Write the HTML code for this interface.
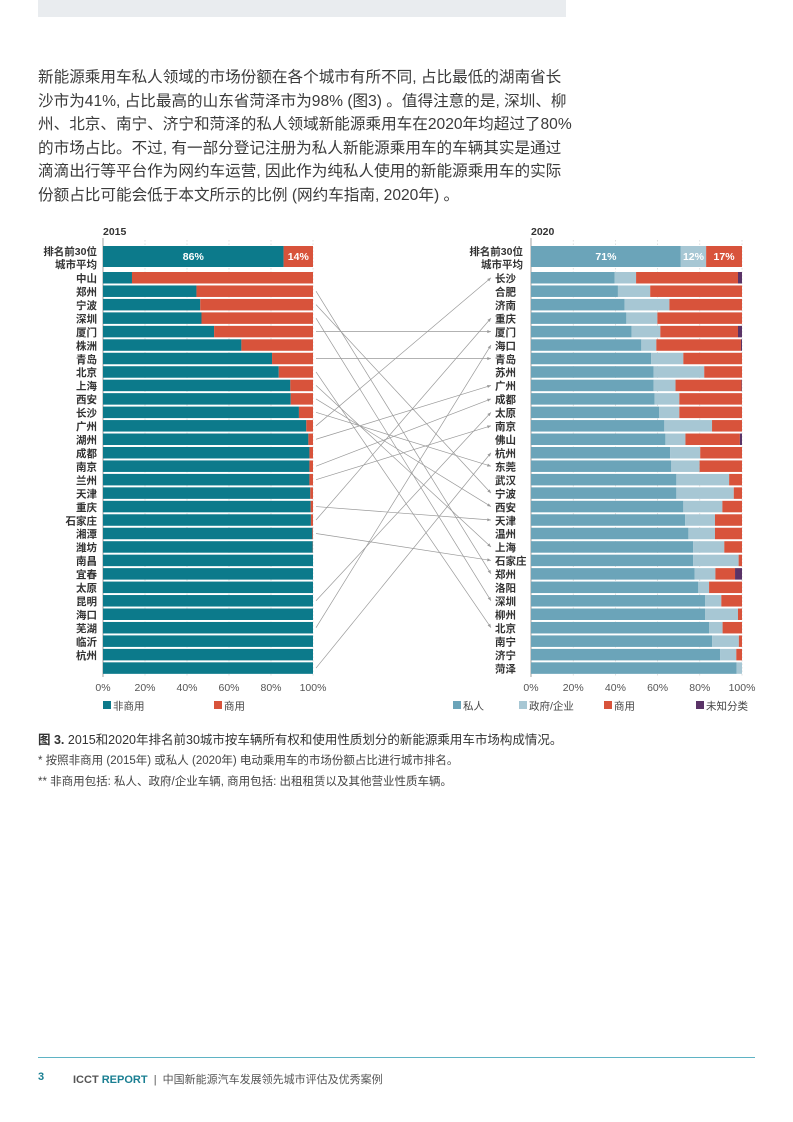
<!DOCTYPE html>
<html><head><meta charset="utf-8">
<style>
body{margin:0;width:793px;height:1122px;background:#fff;position:relative;overflow:hidden;font-family:"Liberation Sans","Noto Sans CJK SC",sans-serif;color:#333}
.topbar{position:absolute;left:38px;top:0;width:528px;height:17px;background:#e9ecef}
.para{position:absolute;left:38px;top:66px;font-size:15.6px;line-height:23.6px;color:#3a3a3a;white-space:nowrap}
.cap{position:absolute;left:38px;font-size:11.5px;color:#444;white-space:nowrap}
svg text{font-family:"Liberation Sans","Noto Sans CJK SC",sans-serif}
</style></head><body>
<div class="topbar"></div>
<div class="para">
<div>新能源乘用车私人领域的市场份额在各个城市有所不同, 占比最低的湖南省长</div>
<div>沙市为41%, 占比最高的山东省菏泽市为98% (图3) 。值得注意的是, 深圳、柳</div>
<div>州、北京、南宁、济宁和菏泽的私人领域新能源乘用车在2020年均超过了80%</div>
<div>的市场占比。不过, 有一部分登记注册为私人新能源乘用车的车辆其实是通过</div>
<div>滴滴出行等平台作为网约车运营, 因此作为纯私人使用的新能源乘用车的实际</div>
<div>份额占比可能会低于本文所示的比例 (网约车指南, 2020年) 。</div>
</div>
<svg id="chart" width="793" height="730" style="position:absolute;left:0;top:0"></svg>
<div class="cap" style="top:729px;font-size:12.5px;color:#333"><b>图 3.</b> 2015和2020年排名前30城市按车辆所有权和使用性质划分的新能源乘用车市场构成情况。</div>
<div class="cap" style="top:752px">* 按照非商用 (2015年) 或私人 (2020年) 电动乘用车的市场份额占比进行城市排名。</div>
<div class="cap" style="top:773px">** 非商用包括: 私人、政府/企业车辆, 商用包括: 出租租赁以及其他营业性质车辆。</div>
<div style="position:absolute;left:38px;top:1057px;width:717px;height:1px;background:#5fb3c4"></div>
<div style="position:absolute;left:38px;top:1071px;font-size:11px;font-weight:bold;color:#1a7f92">3</div>
<div style="position:absolute;left:73px;top:1071px;font-size:11px;white-space:nowrap;color:#555"><b>ICCT <span style="color:#1a7f92">REPORT</span></b> &nbsp;|&nbsp; 中国新能源汽车发展领先城市评估及优秀案例</div>
<script>
const leftCities=["中山","郑州","宁波","深圳","厦门","株洲","青岛","北京","上海","西安","长沙","广州","湖州","成都","南京","兰州","天津","重庆","石家庄","湘潭","潍坊","南昌","宜春","太原","昆明","海口","芜湖","临沂","杭州",""];
const leftNonComm=[13.8,44.5,46.3,46.9,52.9,65.9,80.5,83.7,89.2,89.4,93.3,96.8,97.8,98.3,98.3,98.3,98.7,98.9,99.0,99.7,99.9,100,100,100,100,100,100,100,100,100];
const leftAvg=[86,14];
const rightCities=["长沙","合肥","济南","重庆","厦门","海口","青岛","苏州","广州","成都","太原","南京","佛山","杭州","东莞","武汉","宁波","西安","天津","温州","上海","石家庄","郑州","洛阳","深圳","柳州","北京","南宁","济宁","菏泽"];
const rightPrivate=[39.7,41.2,44.4,45.2,47.7,52.3,57.0,58.1,58.1,58.6,60.8,63.2,63.7,66.0,66.5,68.9,68.9,72.2,73.1,74.6,76.9,76.9,77.6,79.3,82.6,82.6,84.5,85.9,89.7,97.5];
const rightGov=[10.1,15.3,21.2,14.7,13.6,7.1,15.2,24.0,10.4,11.7,9.5,22.6,9.5,14.2,13.4,25.0,27.2,18.5,14.1,12.6,14.7,21.5,9.8,5.1,7.6,15.5,6.3,12.6,7.6,2.5];
const rightComm=[48.3,43.5,34.4,40.1,36.8,40.1,27.8,17.9,31.3,29.7,29.7,14.2,25.8,19.8,20.1,6.1,3.9,9.3,12.8,12.8,8.4,1.6,9.3,15.6,9.8,1.9,9.2,1.5,2.7,0];
const rightUnknown=[1.9,0,0,0,1.9,0.5,0,0,0.2,0,0,0,1.0,0,0,0,0,0,0,0,0,0,3.3,0,0,0,0,0,0,0];
const rightAvg=[71,12,17];
const links=[[1,22],[2,16],[3,24],[4,4],[6,6],[7,26],[8,20],[9,17],[10,14],[11,0],[12,8],[14,9],[15,11],[17,18],[18,3],[19,21],[24,10],[26,5],[29,13]];
const ticks=["0%","20%","40%","60%","80%","100%"];

const NS="http://www.w3.org/2000/svg";
const svg=document.getElementById('chart');
function el(tag,attrs,parent){const e=document.createElementNS(NS,tag);for(const k in attrs)e.setAttribute(k,attrs[k]);(parent||svg).appendChild(e);return e;}
const rowY=i=>272+13.46*i;
const BH=11.5;
const C={teal:"#0c7a8b",red:"#d8533b",priv:"#6ba4b9",gov:"#a7c7d4",unk:"#5a3367"};
function xL(v){return 103+v/100*210;}
function xR(v){return 531+v/100*211;}

function frame(xf,title,name){
  const g=el('g',{});
  
  
  ticks.forEach((t,k)=>{const x=xf(k*20);
    if(k>0){el('line',{x1:x,x2:x,y1:240,y2:676,stroke:"#ccc","stroke-width":0.6,"stroke-dasharray":"1.5,2"},g);}
    const tx=el('text',{x:x,y:691,"font-size":10.5,fill:"#555","text-anchor":"middle"},g);tx.textContent=t;
    
    
  });
  el('line',{x1:xf(0),x2:xf(0),y1:238,y2:677,stroke:"#888","stroke-width":0.8},g);
  const tt=el('text',{x:xf(0),y:235,"font-size":10.5,"font-weight":"bold",fill:"#333"},g);tt.textContent=title;
  
  
}
frame(xL,"2015","chart-2015");
frame(xR,"2020","chart-2020");

function avgLabel(x,anchor){
  const a=el('text',{x:x,y:255,"font-size":10.5,"font-weight":"bold",fill:"#333","text-anchor":anchor});a.textContent="排名前30位";
  
  
  const b=el('text',{x:x,y:268,"font-size":10.5,"font-weight":"bold",fill:"#333","text-anchor":anchor});b.textContent="城市平均";
  
  
}
avgLabel(97,"end");avgLabel(523,"end");

function seg(x0,x1,y,h,fill,name){
  if(x1-x0<=0)return;
  const r=el('rect',{x:x0,y:y,width:x1-x0,height:h,fill:fill});
  
  
  return r;
}
function label(x,y,txt,fill){const t=el('text',{x:x,y:y,"font-size":10.5,"font-weight":"bold",fill:fill,"text-anchor":"middle"});t.textContent=txt;
  
  }

seg(xL(0),xL(leftAvg[0]),246,21,C.teal,'avg-noncommercial-2015');
seg(xL(leftAvg[0]),xL(100),246,21,C.red,'avg-commercial-2015');
label((xL(0)+xL(leftAvg[0]))/2,260,leftAvg[0]+"%","#fff");
label((xL(leftAvg[0])+xL(100))/2,260,leftAvg[1]+"%","#fff");
let acc=0;[C.priv,C.gov,C.red].forEach((c,k)=>{const a=acc;acc+=rightAvg[k];
  seg(xR(a),xR(acc),246,21,c,'avg-segment-2020');
  label((xR(a)+xR(acc))/2,260,rightAvg[k]+"%","#fff");});

leftNonComm.forEach((v,i)=>{const y=rowY(i);
  seg(xL(0),xL(v),y,BH,C.teal,'bar-2015-noncommercial');
  seg(xL(v),xL(100),y,BH,C.red,'bar-2015-commercial');
  if(leftCities[i]){const t=el('text',{x:97,y:rowY(i)+10,"font-size":10.5,"font-weight":"bold",fill:"#333","text-anchor":"end"});t.textContent=leftCities[i];
    
    }
});
rightCities.forEach((c,i)=>{const y=rowY(i);
  const p=rightPrivate[i],g=p+rightGov[i],cm=g+rightComm[i],u=cm+rightUnknown[i];
  seg(xR(0),xR(p),y,BH,C.priv,'bar-2020-private');
  seg(xR(p),xR(g),y,BH,C.gov,'bar-2020-government');
  seg(xR(g),xR(Math.min(cm,100)),y,BH,C.red,'bar-2020-commercial');
  seg(xR(Math.min(cm,100)),xR(Math.min(u,100)),y,BH,C.unk,'bar-2020-unknown');
  const t=el('text',{x:495,y:y+10,"font-size":10.5,"font-weight":"bold",fill:"#333"});t.textContent=c;
  
  
});
links.forEach(([a,b])=>{
  const y1=rowY(a)+BH/2,y2=rowY(b)+BH/2,x1=316,x2=491;
  const l=el('line',{x1:x1,y1:y1,x2:x2,y2:y2,stroke:"#999","stroke-width":0.7});
  
  
  const ang=Math.atan2(y2-y1,x2-x1),s=4;
  const pts=[[x2,y2],[x2-s*Math.cos(ang-0.4),y2-s*Math.sin(ang-0.4)],[x2-s*Math.cos(ang+0.4),y2-s*Math.sin(ang+0.4)]];
  const ah=el('polygon',{points:pts.map(p=>p.join(',')).join(' '),fill:"#999"});
  
  
});
function legend(x,txt,c){const r=el('rect',{x:x,y:701,width:8,height:8,fill:c});
  
  
  const t=el('text',{x:x+10,y:709.5,"font-size":10.5,fill:"#444"});t.textContent=txt;
  
  }
legend(103,"非商用",C.teal);legend(214,"商用",C.red);
legend(453,"私人",C.priv);legend(519,"政府/企业",C.gov);legend(604,"商用",C.red);legend(696,"未知分类",C.unk);
</script>
</body></html>
